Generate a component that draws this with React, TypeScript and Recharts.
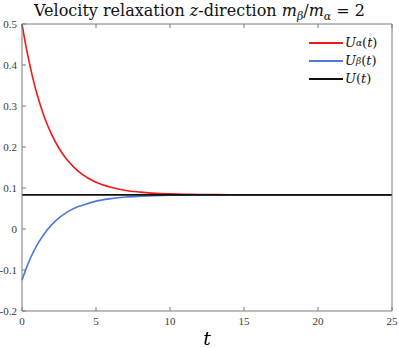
import { Line, LineChart, XAxis, YAxis } from 'recharts';

// t sampled every half unit early on, then coarser once things settle
const tValues = [0, 0.25, 0.5, 0.75, 1, 1.5, 2, 2.5, 3, 3.5, 4, 5, 6, 7, 8, 9, 10, 11, 12, 14, 16, 20, 25];
const uAlpha = [0.5, 0.449, 0.405, 0.365, 0.331, 0.274, 0.231, 0.197, 0.171, 0.151, 0.135, 0.114, 0.102, 0.094, 0.09, 0.087, 0.0856, 0.0847, 0.0841, 0.0836, 0.0834, 0.0833, 0.0833];
const uBeta = [-0.125, -0.0997, -0.077, -0.0577, -0.04, -0.012, 0.01, 0.027, 0.04, 0.05, 0.057, 0.068, 0.074, 0.078, 0.08, 0.0814, 0.0822, 0.0826, 0.0829, 0.0832, 0.0833, 0.0833, 0.0833];
const uMean = 0.0833;

const xTicks = [0, 5, 10, 15, 20, 25];
const yTicks = [-0.2, -0.1, 0, 0.1, 0.2, 0.3, 0.4, 0.5];

const points = tValues.map((t, i) => ({ t, ua: uAlpha[i], ub: uBeta[i], u: uMean }));

const SERIF = '"DejaVu Serif", serif';
const TICK_FONT = '"Liberation Serif", "DejaVu Serif", serif';
const AXIS = '#7a7a7a';
const TICK_TEXT = { fill: '#3a3a3a', fontSize: 11, fontFamily: TICK_FONT };

const legendItems = [
  { key: 'ua', color: '#f01818', sub: 'α' },
  { key: 'ub', color: '#5078d8', sub: 'β' },
  { key: 'u', color: '#111111', sub: '' },
];

function fmtY(v: number) {
  if (Math.abs(v) < 1e-9) return '0';
  return String(Math.round(v * 10) / 10);
}

function LegendBox() {
  return (
    <div
      style={{
        position: 'absolute',
        left: 309,
        top: 34,
        fontFamily: SERIF,
        fontSize: 13,
        lineHeight: '18px',
        color: '#111',
      }}
    >
      {legendItems.map((item) => (
        <div key={item.key} style={{ display: 'flex', alignItems: 'center', height: 18 }}>
          <span style={{ display: 'inline-block', width: 34, height: 2, background: item.color, marginRight: 2 }} />
          <span style={{ fontStyle: 'italic' }}>U</span>
          {item.sub && <sub style={{ fontStyle: 'italic', fontSize: 9 }}>{item.sub}</sub>}
          <span>(</span>
          <span style={{ fontStyle: 'italic' }}>t</span>
          <span>)</span>
        </div>
      ))}
    </div>
  );
}

export default function App() {
  return (
    <div style={{ position: 'fixed', left: 0, top: 0, width: 399, height: 348, background: '#fff' }}>
      <div
        style={{
          position: 'absolute',
          top: 0,
          left: 0,
          width: 399,
          textAlign: 'center',
          fontFamily: SERIF,
          fontSize: 16,
          lineHeight: '22px',
          color: '#111',
          whiteSpace: 'nowrap',
        }}
      >
        Velocity relaxation <i>z</i>-direction <i>m</i>
        <sub style={{ fontStyle: 'italic', fontSize: 11 }}>β</sub>/<i>m</i>
        <sub style={{ fontStyle: 'italic', fontSize: 11 }}>α</sub> = 2
      </div>
      <LineChart width={399} height={348} data={points} margin={{ top: 23, right: 6, bottom: 0, left: 0 }}>
        <XAxis
          dataKey="t"
          type="number"
          domain={[0, 25]}
          ticks={xTicks}
          height={37}
          stroke={AXIS}
          tickSize={-4}
          tickMargin={10}
          tick={TICK_TEXT}
        />
        <XAxis
          xAxisId="top"
          dataKey="t"
          type="number"
          orientation="top"
          domain={[0, 25]}
          ticks={xTicks}
          height={1}
          stroke={AXIS}
          tickSize={-4}
          tickFormatter={() => ''}
        />
        <YAxis
          type="number"
          domain={[-0.2, 0.5]}
          ticks={yTicks}
          width={22}
          stroke={AXIS}
          tickSize={-4}
          tickMargin={9}
          tick={TICK_TEXT}
          tickFormatter={fmtY}
        />
        <YAxis
          yAxisId="right"
          orientation="right"
          type="number"
          domain={[-0.2, 0.5]}
          ticks={yTicks}
          width={1}
          stroke={AXIS}
          tickSize={-4}
          tickFormatter={() => ''}
        />
        <Line type="monotone" dataKey="ua" stroke="#f01818" strokeWidth={1.6} dot={false} isAnimationActive={false} />
        <Line type="monotone" dataKey="ub" stroke="#5078d8" strokeWidth={1.6} dot={false} isAnimationActive={false} />
        <Line type="linear" dataKey="u" stroke="#111111" strokeWidth={1.6} dot={false} isAnimationActive={false} />
      </LineChart>
      <LegendBox />
      <div
        style={{
          position: 'absolute',
          left: 0,
          width: 414,
          top: 329,
          textAlign: 'center',
          fontFamily: SERIF,
          fontStyle: 'italic',
          fontSize: 19,
          lineHeight: '18px',
        }}
      >
        t
      </div>
    </div>
  );
}
